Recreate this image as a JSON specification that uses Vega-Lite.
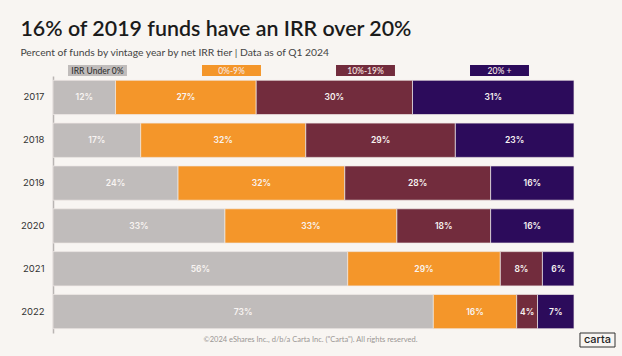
{
  "$schema": "https://vega.github.io/schema/vega-lite/v6.json",
  "background": "#f8f5f2",
  "padding": {"top": 19, "left": 20, "right": 7, "bottom": 10},
  "title": {
    "text": "16% of 2019 funds have an IRR over 20%",
    "subtitle": "Percent of funds by vintage year by net IRR tier | Data as of Q1 2024",
    "anchor": "start",
    "frame": "bounds",
    "font": "Lato",
    "fontSize": 21.4,
    "fontWeight": 600,
    "color": "#1b1b1b",
    "subtitleFont": "Lato",
    "subtitleFontSize": 10.3,
    "subtitleColor": "#444444",
    "subtitlePadding": 7,
    "offset": 7
  },
  "datasets": {
    "bars": [
      {"year": "2017", "tier": "IRR Under 0%", "rank": 1, "pct": 0.12},
      {"year": "2017", "tier": "0%-9%", "rank": 2, "pct": 0.27},
      {"year": "2017", "tier": "10%-19%", "rank": 3, "pct": 0.30},
      {"year": "2017", "tier": "20% +", "rank": 4, "pct": 0.31},
      {"year": "2018", "tier": "IRR Under 0%", "rank": 1, "pct": 0.17},
      {"year": "2018", "tier": "0%-9%", "rank": 2, "pct": 0.32},
      {"year": "2018", "tier": "10%-19%", "rank": 3, "pct": 0.29},
      {"year": "2018", "tier": "20% +", "rank": 4, "pct": 0.23},
      {"year": "2019", "tier": "IRR Under 0%", "rank": 1, "pct": 0.24},
      {"year": "2019", "tier": "0%-9%", "rank": 2, "pct": 0.32},
      {"year": "2019", "tier": "10%-19%", "rank": 3, "pct": 0.28},
      {"year": "2019", "tier": "20% +", "rank": 4, "pct": 0.16},
      {"year": "2020", "tier": "IRR Under 0%", "rank": 1, "pct": 0.33},
      {"year": "2020", "tier": "0%-9%", "rank": 2, "pct": 0.33},
      {"year": "2020", "tier": "10%-19%", "rank": 3, "pct": 0.18},
      {"year": "2020", "tier": "20% +", "rank": 4, "pct": 0.16},
      {"year": "2021", "tier": "IRR Under 0%", "rank": 1, "pct": 0.56},
      {"year": "2021", "tier": "0%-9%", "rank": 2, "pct": 0.29},
      {"year": "2021", "tier": "10%-19%", "rank": 3, "pct": 0.08},
      {"year": "2021", "tier": "20% +", "rank": 4, "pct": 0.06},
      {"year": "2022", "tier": "IRR Under 0%", "rank": 1, "pct": 0.73},
      {"year": "2022", "tier": "0%-9%", "rank": 2, "pct": 0.16},
      {"year": "2022", "tier": "10%-19%", "rank": 3, "pct": 0.04},
      {"year": "2022", "tier": "20% +", "rank": 4, "pct": 0.07}
    ],
    "tiers": [
      {"tier": "IRR Under 0%"},
      {"tier": "0%-9%"},
      {"tier": "10%-19%"},
      {"tier": "20% +"}
    ],
    "footer": [
      {"kind": "footer", "label": "©2024 eShares Inc., d/b/a Carta Inc. (\"Carta\"). All rights reserved."},
      {"kind": "logo", "label": "carta"}
    ]
  },
  "spacing": -2,
  "vconcat": [
    {
      "width": 521,
      "height": 11,
      "data": {"name": "tiers"},
      "encoding": {
        "x": {
          "field": "tier",
          "type": "nominal",
          "scale": {
            "type": "band",
            "domain": ["IRR Under 0%", "0%-9%", "10%-19%", "20% +"],
            "paddingInner": 0.56,
            "paddingOuter": 0.224,
            "align": 0.25
          },
          "axis": null
        }
      },
      "layer": [
        {
          "mark": {"type": "rect"},
          "encoding": {
            "fill": {
              "field": "tier",
              "type": "nominal",
              "scale": {
                "domain": ["IRR Under 0%", "0%-9%", "10%-19%", "20% +"],
                "range": ["#c0bcbb", "#f4962a", "#722c3d", "#2c0b5b"]
              },
              "legend": null
            }
          }
        },
        {
          "mark": {"type": "text", "font": "Lato", "fontSize": 8.5, "fontWeight": 500},
          "encoding": {
            "text": {"field": "tier"},
            "color": {
              "condition": {"test": "datum.tier === 'IRR Under 0%'", "value": "#333333"},
              "value": "#f6e6e0"
            }
          }
        }
      ]
    },
    {
      "width": 521,
      "height": 257,
      "data": {"name": "bars"},
      "encoding": {
        "y": {
          "field": "year",
          "type": "ordinal",
          "scale": {"paddingInner": 0.2, "paddingOuter": 0.1},
          "axis": {
            "title": null,
            "ticks": false,
            "tickSize": 0,
            "labelPadding": 9,
            "labelFont": "Inter",
            "labelFontSize": 9.5,
            "labelColor": "#333333",
            "domainColor": "#b9b5b3",
            "domainWidth": 1.5
          }
        },
        "x": {
          "field": "pct",
          "type": "quantitative",
          "stack": "normalize",
          "axis": null,
          "scale": {"domain": [0, 1], "nice": false}
        },
        "order": {"field": "rank", "type": "quantitative"}
      },
      "layer": [
        {
          "mark": {"type": "bar", "stroke": "#efe9e6", "strokeWidth": 0.7},
          "encoding": {
            "color": {
              "field": "tier",
              "type": "nominal",
              "scale": {
                "domain": ["IRR Under 0%", "0%-9%", "10%-19%", "20% +"],
                "range": ["#c0bcbb", "#f4962a", "#722c3d", "#2c0b5b"]
              },
              "legend": null
            }
          }
        },
        {
          "mark": {"type": "text", "font": "Inter", "fontSize": 8.5, "fontWeight": 600, "color": "#f8f4f2"},
          "encoding": {
            "x": {
              "field": "pct",
              "type": "quantitative",
              "stack": "normalize",
              "bandPosition": 0.5,
              "axis": null,
              "scale": {"domain": [0, 1], "nice": false}
            },
            "detail": {"field": "tier", "type": "nominal"},
            "text": {"field": "pct", "type": "quantitative", "format": ".0%"}
          }
        }
      ]
    },
    {
      "width": 562,
      "height": 14,
      "data": {"name": "footer"},
      "encoding": {
        "x": {
          "field": "kind",
          "type": "nominal",
          "scale": {
            "type": "band",
            "domain": ["footer", "logo"],
            "paddingInner": 0.878,
            "paddingOuter": 0.418,
            "align": 1
          },
          "axis": null
        }
      },
      "layer": [
        {
          "transform": [{"filter": {"field": "kind", "equal": "logo"}}],
          "mark": {"type": "rect", "fill": "#f8f5f2", "stroke": "#333333", "strokeWidth": 1}
        },
        {
          "transform": [{"filter": {"field": "kind", "equal": "footer"}}],
          "mark": {"type": "text", "font": "Lato", "fontSize": 7.5, "color": "#9a9694"},
          "encoding": {"text": {"field": "label"}}
        },
        {
          "transform": [{"filter": {"field": "kind", "equal": "logo"}}],
          "mark": {"type": "text", "font": "Inter", "fontSize": 11, "fontWeight": 500, "color": "#222222"},
          "encoding": {"text": {"field": "label"}}
        }
      ]
    }
  ],
  "config": {
    "view": {"stroke": null},
    "font": "Inter"
  }
}
